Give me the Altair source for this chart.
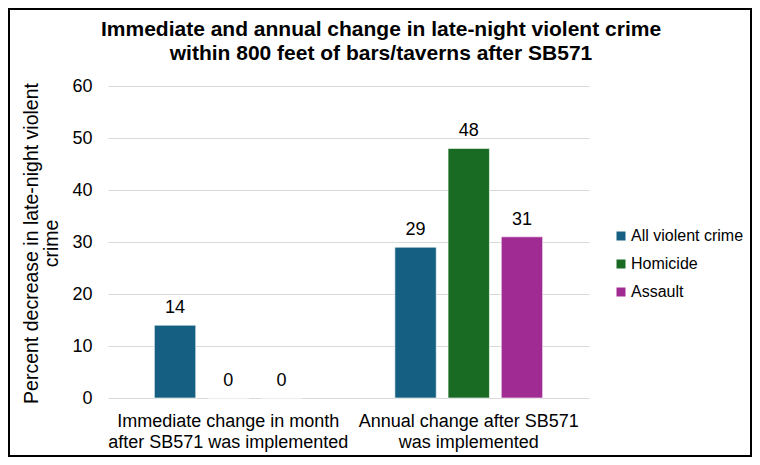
import altair as alt
import pandas as pd

# ---- data ----
groups = [
    "Immediate change in month after SB571 was implemented",
    "Annual change after SB571 was implemented",
]
group_label_lines = [
    ["Immediate change in month", "after SB571 was implemented"],
    ["Annual change after SB571", "was implemented"],
]
series = ["All violent crime", "Homicide", "Assault"]
immediate_values = [14, 0, 0]
annual_values = [29, 48, 31]
series_colors = ["#156082", "#196B24", "#A02B93"]
y_ticks = [0, 10, 20, 30, 40, 50, 60]
title_lines = [
    "Immediate and annual change in late-night violent crime",
    "within 800 feet of bars/taverns after SB571",
]
y_title_lines = ["Percent decrease in late-night violent", "crime"]

rows = []
for g, vals in zip(groups, [immediate_values, annual_values]):
    for s, v in zip(series, vals):
        rows.append({"group": g, "series": s, "value": v})
df = pd.DataFrame(rows)

FONT = "Liberation Sans"

label_expr = "datum.value == '%s' ? ['%s', '%s'] : ['%s', '%s']" % (
    groups[0],
    group_label_lines[0][0], group_label_lines[0][1],
    group_label_lines[1][0], group_label_lines[1][1],
)

x_enc = alt.X(
    "group:N",
    sort=groups,
    scale=alt.Scale(paddingInner=0, paddingOuter=0),
    axis=alt.Axis(
        title=None,
        labelAngle=0,
        labelExpr=label_expr,
        labelFontSize=18,
        labelLineHeight=21,
        labelPadding=14,
        labelLimit=0,
        labelColor="#000000",
        domain=False,
        ticks=False,
        tickSize=0,
        labelFont=FONT,
    ),
)
xoff_enc = alt.XOffset(
    "series:N", sort=series, scale=alt.Scale(paddingInner=0.222, paddingOuter=0.871)
)
y_enc = alt.Y(
    "value:Q",
    scale=alt.Scale(domain=[0, 60], nice=False),
    axis=alt.Axis(
        values=y_ticks,
        title=y_title_lines,
        titleFont=FONT,
        titleFontSize=19.5,
        titleFontWeight="normal",
        titleLineHeight=20,
        titleColor="#000000",
        titleAngle=-90,
        titleBaseline="middle",
        titleAlign="center",
        titleX=-77,
        titleY=157,
        labelFont=FONT,
        labelFontSize=18,
        labelColor="#000000",
        labelPadding=16,
        ticks=False,
        tickSize=0,
        domain=False,
        grid=True,
        gridColor="#d9d9d9",
        gridWidth=1,
    ),
)

bars = alt.Chart(df).mark_bar(stroke="#ffffff", strokeWidth=0.6).encode(
    x=x_enc,
    xOffset=xoff_enc,
    y=y_enc,
    color=alt.Color(
        "series:N",
        sort=series,
        scale=alt.Scale(domain=series, range=series_colors),
        legend=alt.Legend(
            title=None,
            orient="none",
            legendX=505,
            legendY=142,
            symbolType="square",
            symbolSize=81,
            symbolStrokeWidth=0,
            labelFont=FONT,
            labelFontSize=16,
            labelColor="#000000",
            labelOffset=2,
            rowPadding=12,
            padding=0,
        ),
    ),
)

labels = alt.Chart(df).mark_text(
    font=FONT, fontSize=18, color="#000000", baseline="alphabetic", dy=-12
).encode(
    x=alt.X("group:N", sort=groups),
    xOffset=alt.XOffset("series:N", sort=series),
    y=alt.Y("value:Q"),
    text=alt.Text("value:Q"),
)

border = alt.Chart(pd.DataFrame({"k": [0]})).mark_rect(
    fill=None, filled=False, stroke="#000000", strokeWidth=2
).encode(
    x=alt.value(-99),
    x2=alt.value(643),
    y=alt.value(-77),
    y2=alt.value(370),
)

chart = (
    alt.layer(bars, labels, border)
    .properties(
        width=481,
        height=312,
        padding=0,
        title=alt.TitleParams(
            text=title_lines,
            font=FONT,
            fontSize=21,
            fontWeight="bold",
            color="#000000",
            anchor="middle",
            dx=32.5,
            offset=-56,
            lineHeight=24,
        ),
        background="#ffffff",
    )
    .configure_view(stroke=None)
)

chart.save("out.html", embed_options={"renderer": "svg", "actions": False})
